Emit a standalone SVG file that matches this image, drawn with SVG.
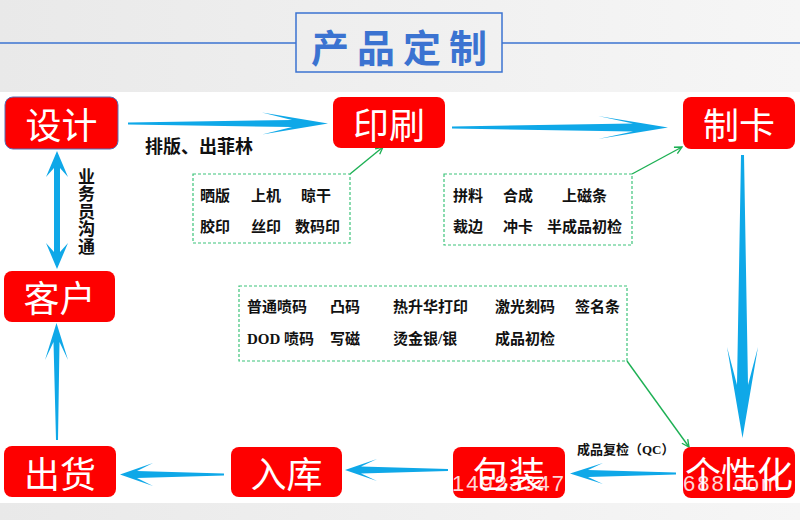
<svg xmlns="http://www.w3.org/2000/svg" width="800" height="520" viewBox="0 0 800 520">
<defs>
<linearGradient id="band" x1="0" y1="0" x2="1" y2="0">
<stop offset="0" stop-color="#e9e9e9"/>
<stop offset="1" stop-color="#f6f6f6"/>
</linearGradient>
<marker id="ga" viewBox="0 0 10 10" refX="9" refY="5" markerWidth="9" markerHeight="9" markerUnits="userSpaceOnUse" orient="auto">
<path d="M1,1 L9,5 L1,9" fill="none" stroke="#1db054" stroke-width="1.5"/>
</marker>
</defs>
<style>
.node rect{fill:#fe0000;}
.node text{fill:#fff;font-family:"Noto Sans CJK SC",sans-serif;font-size:36px;text-anchor:middle;dominant-baseline:central;}
.lbl{fill:#111;font-family:"Liberation Serif","Noto Sans CJK SC",serif;font-weight:bold;font-size:15px;dominant-baseline:central;}
.big{font-size:18px;}
.vert{font-size:17px;text-anchor:middle;}
.small{font-size:13px;}
.box{fill:none;stroke:#3cc47a;stroke-width:1.2;stroke-dasharray:3 2;}
.blue{fill:#0fa8e8;}
.green{fill:none;stroke:#1db054;stroke-width:1.4;marker-end:url(#ga);}
.wm{fill:#fff;fill-opacity:0.85;font-family:"Liberation Sans",sans-serif;font-size:22px;letter-spacing:2px;}
</style>
<rect x="0" y="0" width="800" height="520" fill="#fff"/>
<rect x="0" y="0" width="800" height="92" fill="url(#band)"/>
<rect x="0" y="503" width="800" height="17" fill="url(#band)"/>

<g id="title">
<line x1="0" y1="43" x2="296" y2="43" stroke="#3b73d1" stroke-width="1.5"/>
<line x1="502" y1="43" x2="800" y2="43" stroke="#3b73d1" stroke-width="1.5"/>
<rect x="296" y="13" width="206" height="59" fill="none" stroke="#3b73d1" stroke-width="1.5"/>
<text x="311" y="45" fill="#3b73d1" font-family="Noto Sans CJK SC, sans-serif" font-size="38" font-weight="bold" letter-spacing="8" dominant-baseline="central">产品定制</text>
</g>

<g id="connectors">
<path class="blue" d="M128,122.5 L292,120 L262,112.5 L328,123.5 L262,134.5 L292,127 L128,124.5 Z"/>
<path class="blue" d="M452,126.5 L633,123.5 L598,116 L668,127.5 L598,139 L633,131.5 L452,128.5 Z"/>
<path class="blue" d="M741,155 L744,155 L748,385 L758,347 L742.5,438 L727,347 L737,385 Z"/>
<path class="blue" d="M676,472.5 L588,470 L603,463 L570,473.5 L603,484 L588,477 L676,474.5 Z"/>
<path class="blue" d="M448,469 L361,466.5 L377,459 L345,470 L377,481 L361,473.5 L448,471 Z"/>
<path class="blue" d="M224,473.5 L137,471 L153,463 L120,474.5 L153,486 L137,478 L224,475.5 Z"/>
<path class="blue" d="M56,440 L53.5,342 L45,360 L56.5,323 L68,360 L59.5,342 L58,440 Z"/>
<path class="blue" d="M57,151 L68,177 L60,168 L60,252 L68,243 L57,269 L46,243 L54,252 L54,168 L46,177 Z"/>
<line class="green" x1="350" y1="174" x2="383" y2="147"/>
<line class="green" x1="632" y1="174" x2="682" y2="147"/>
<line class="green" x1="627" y1="361" x2="689" y2="447"/>
<text class="lbl big" x="145" y="147">排版、出菲林</text>
<g>
<text class="lbl vert" x="86.5" y="177">业</text>
<text class="lbl vert" x="86.5" y="194.5">务</text>
<text class="lbl vert" x="86.5" y="212">员</text>
<text class="lbl vert" x="86.5" y="229.5">沟</text>
<text class="lbl vert" x="86.5" y="247">通</text>
</g>
<text class="lbl small" x="577" y="449">成品复检（QC）</text>
</g>

<g id="proc-print">
<rect class="box" x="193" y="174" width="157" height="69"/>
<text class="lbl" x="200" y="196">晒版</text>
<text class="lbl" x="251" y="196">上机</text>
<text class="lbl" x="301" y="196">晾干</text>
<text class="lbl" x="200" y="227">胶印</text>
<text class="lbl" x="251" y="227">丝印</text>
<text class="lbl" x="295" y="227">数码印</text>
</g>

<g id="proc-card">
<rect class="box" x="444" y="174" width="188" height="71"/>
<text class="lbl" x="453" y="196">拼料</text>
<text class="lbl" x="503" y="196">合成</text>
<text class="lbl" x="562" y="196">上磁条</text>
<text class="lbl" x="453" y="227">裁边</text>
<text class="lbl" x="503" y="227">冲卡</text>
<text class="lbl" x="547" y="227">半成品初检</text>
</g>

<g id="proc-personal">
<rect class="box" x="239" y="286" width="388" height="75"/>
<text class="lbl" x="247" y="307">普通喷码</text>
<text class="lbl" x="330" y="307">凸码</text>
<text class="lbl" x="393" y="307">热升华打印</text>
<text class="lbl" x="495" y="307">激光刻码</text>
<text class="lbl" x="575" y="307">签名条</text>
<text class="lbl" x="247" y="339">DOD 喷码</text>
<text class="lbl" x="330" y="339">写磁</text>
<text class="lbl" x="393" y="339">烫金银/银</text>
<text class="lbl" x="495" y="339">成品初检</text>
</g>

<g id="design" class="node"><rect x="5" y="97" width="113" height="52" rx="8" stroke="#5470b8" stroke-width="1"/><text x="61.5" y="123">设计</text></g>
<g id="print" class="node"><rect x="333" y="97" width="112" height="51" rx="8"/><text x="389" y="122.5">印刷</text></g>
<g id="card" class="node"><rect x="683" y="97" width="112" height="52" rx="8"/><text x="739" y="123">制卡</text></g>
<g id="customer" class="node"><rect x="4" y="271" width="111" height="51" rx="8"/><text x="59.5" y="296">客户</text></g>
<g id="ship" class="node"><rect x="4" y="446" width="112" height="51" rx="8"/><text x="60" y="471.5">出货</text></g>
<g id="store" class="node"><rect x="231" y="447" width="111" height="50" rx="8"/><text x="286.5" y="472">入库</text></g>
<g id="pack" class="node"><rect x="453" y="447" width="112" height="51" rx="8"/><text x="509" y="472">包装</text></g>
<g id="personal" class="node"><rect x="683" y="447" width="112" height="51" rx="8"/><text x="739" y="472">个性化</text></g>

<text class="wm" x="452" y="491">14923347</text>
<text class="wm" x="683" y="491">688.com</text>
</svg>
